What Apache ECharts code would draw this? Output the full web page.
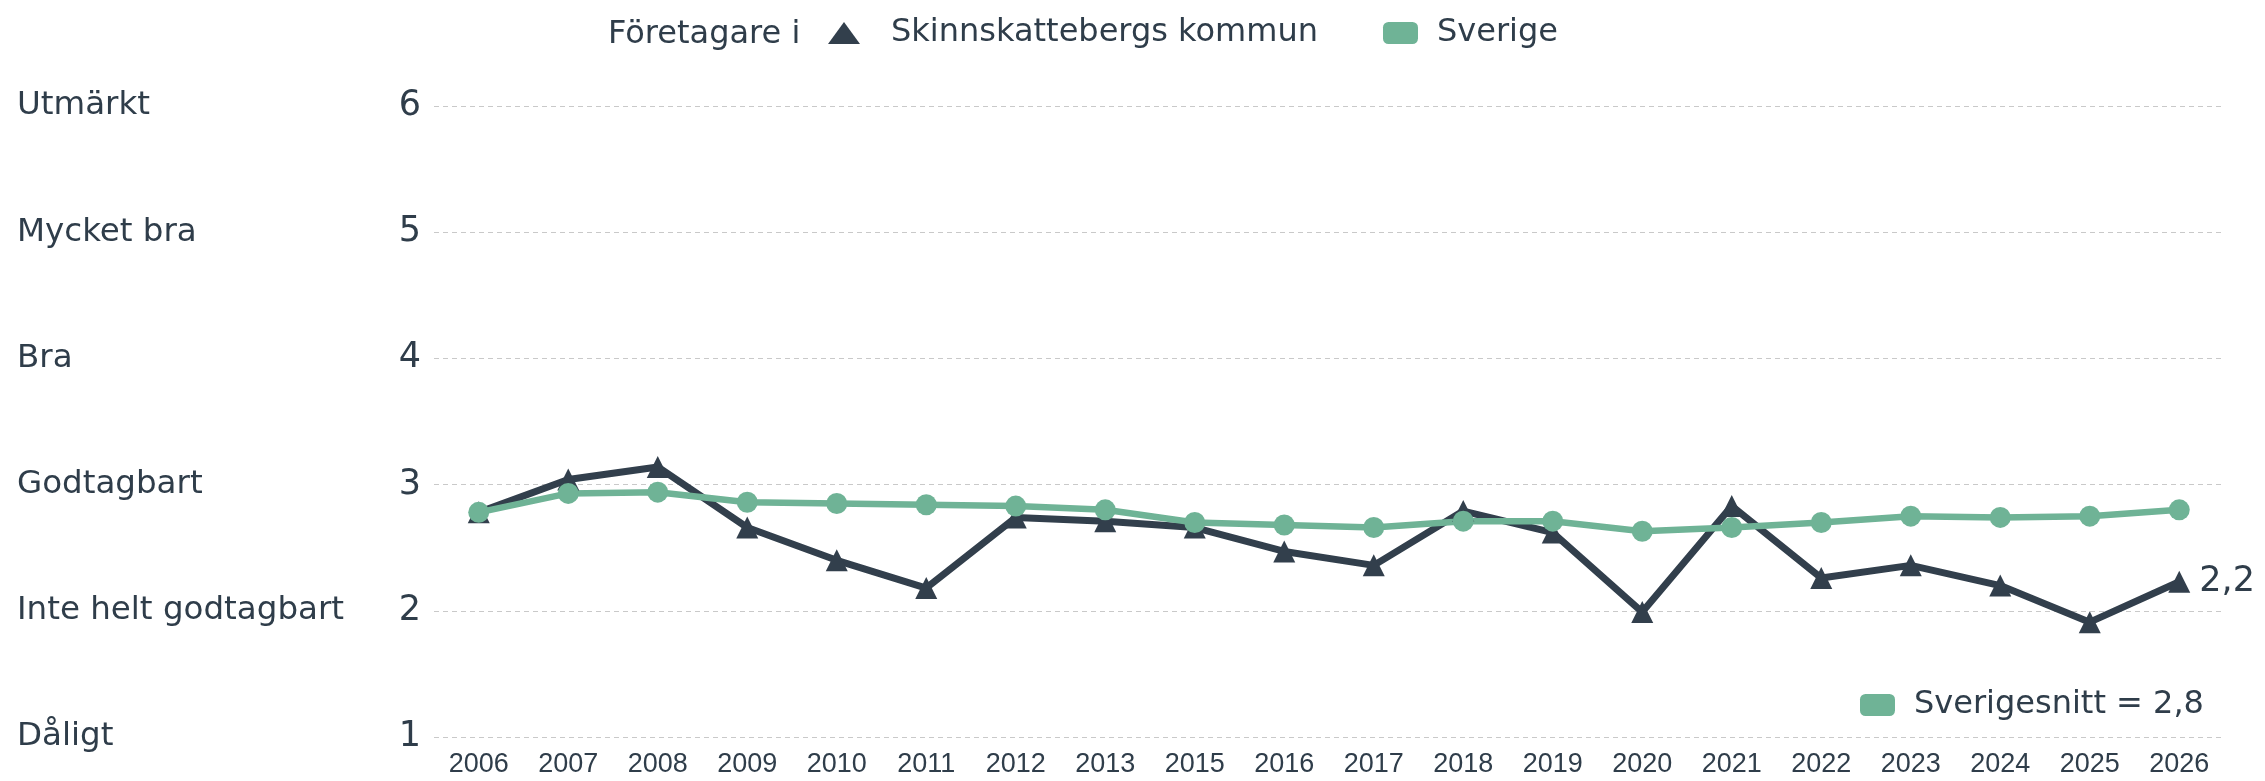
<!DOCTYPE html>
<html>
<head>
<meta charset="utf-8">
<script src="https://cdn.jsdelivr.net/npm/echarts@6/dist/echarts.min.js"></script>
<style>
html,body{margin:0;padding:0;background:#fff;}
#chart{width:2265px;height:781px;}
</style>
</head>
<body>
<div id="chart"></div>
<script>
const years = ['2006','2007','2008','2009','2010','2011','2012','2013','2015','2016','2017','2018','2019','2020','2021','2022','2023','2024','2025','2026'];
const skinnskatteberg = [2.78, 3.04, 3.14, 2.66, 2.40, 2.18, 2.74, 2.71, 2.66, 2.47, 2.36, 2.79, 2.62, 1.99, 2.83, 2.26, 2.36, 2.20, 1.91, 2.23];
const sverige = [2.78, 2.93, 2.94, 2.86, 2.85, 2.84, 2.83, 2.80, 2.70, 2.68, 2.66, 2.71, 2.71, 2.63, 2.66, 2.70, 2.75, 2.74, 2.75, 2.80];
const yTickNames = ['', 'Dåligt', 'Inte helt godtagbart', 'Godtagbart', 'Bra', 'Mycket bra', 'Utmärkt'];
const seriesNames = ['Skinnskattebergs kommun', 'Sverige'];
const legendPrefix = 'Företagare i';
const swedenAvg = 2.8;

const dark = '#323f4c';
const green = '#6fb396';
const textColor = '#2f3d4a';
const fmt = v => Number(v).toFixed(1).replace('.', ',');
const avgName = 'Sverigesnitt = ' + fmt(swedenAvg);
const FONT = 'DejaVu Sans';

const chart = echarts.init(document.getElementById('chart'), null, {renderer: 'canvas'});
chart.setOption({
  animation: false,
  backgroundColor: '#fff',
  title: {
    text: legendPrefix, left: 603, top: 14,
    textStyle: {fontFamily: FONT, fontSize: 32, fontWeight: 'normal', color: textColor}
  },
  legend: [
    {
      data: [{name: seriesNames[0], icon: 'path://M16,0L32,22L0,22Z'}],
      left: 823, top: 12, itemWidth: 32, itemHeight: 22, selectedMode: false,
      textStyle: {fontFamily: FONT, fontSize: 32, color: textColor, padding: [0, 0, 0, 26]}
    },
    {
      data: [{name: seriesNames[1], icon: 'roundRect'}],
      left: 1378, top: 12, itemWidth: 35, itemHeight: 22, selectedMode: false,
      textStyle: {fontFamily: FONT, fontSize: 32, color: textColor, padding: [0, 0, 0, 14]}
    },
    {
      data: [{name: avgName, icon: 'roundRect'}],
      left: 1855, top: 684, itemWidth: 35, itemHeight: 22, selectedMode: false,
      textStyle: {fontFamily: FONT, fontSize: 32, color: textColor, padding: [0, 0, 0, 14]}
    }
  ],
  grid: {left: 434, right: 41, top: 106, bottom: 44, containLabel: false},
  xAxis: {
    type: 'category', data: years, boundaryGap: true,
    axisLine: {show: false}, axisTick: {show: false},
    axisLabel: {fontFamily: 'Liberation Sans', fontSize: 27, color: textColor, margin: 14, interval: 0}
  },
  yAxis: [
    {
      type: 'value', min: 1, max: 6, interval: 1, position: 'left',
      axisLine: {show: false}, axisTick: {show: false},
      axisLabel: {fontFamily: FONT, fontSize: 35, color: textColor, margin: 13, align: 'right'},
      splitLine: {show: true, lineStyle: {color: '#c9c9c9', type: [5, 4], width: 1.2}}
    },
    {
      type: 'value', min: 1, max: 6, interval: 1, position: 'left',
      axisLine: {show: false}, axisTick: {show: false}, splitLine: {show: false},
      axisLabel: {fontFamily: FONT, fontSize: 32.5, color: textColor, margin: 417, align: 'left',
        padding: [12, 0, 0, 0],
        formatter: v => yTickNames[v] || ''}
    }
  ],
  series: [
    {
      name: seriesNames[0], type: 'line', data: skinnskatteberg,
      symbol: 'triangle', symbolSize: 22, color: dark,
      lineStyle: {width: 7, color: dark}, itemStyle: {color: dark},
      endLabel: {show: true, distance: 20, fontFamily: FONT, fontSize: 35, color: textColor,
        formatter: p => fmt(p.value)}
    },
    {
      name: seriesNames[1], type: 'line', data: sverige,
      symbol: 'circle', symbolSize: 21, color: green,
      lineStyle: {width: 6.5, color: green}, itemStyle: {color: green}
    },
    {
      name: avgName, type: 'line', data: [], color: green, itemStyle: {color: green}
    }
  ]
});
</script>
</body>
</html>
